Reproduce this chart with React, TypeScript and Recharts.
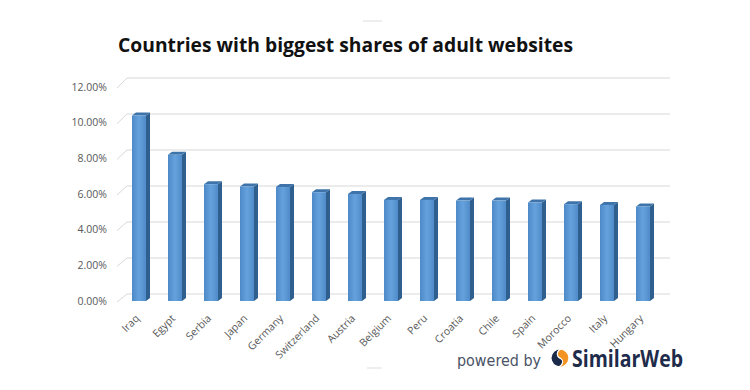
import React from 'react';
import { BarChart, Bar, XAxis, YAxis, CartesianGrid } from 'recharts';

const countries = ['Iraq', 'Egypt', 'Serbia', 'Japan', 'Germany', 'Switzerland', 'Austria', 'Belgium', 'Peru', 'Croatia', 'Chile', 'Spain', 'Morocco', 'Italy', 'Hungary'];
const shares = [10.4, 8.2, 6.55, 6.42, 6.39, 6.1, 6.0, 5.67, 5.67, 5.63, 5.63, 5.52, 5.43, 5.39, 5.3];
const yTicks = [0, 2, 4, 6, 8, 10, 12];
const title = 'Countries with biggest shares of adult websites';

const data = countries.map((c, i) => ({ country: c, share: shares[i] }));

const FONT = '"Open Sans", "DejaVu Sans", sans-serif';

const Bar3D = (props: any) => {
  const { x, y, width, height } = props;
  if (height == null || width == null) return null;
  const d = 4;
  const dy = 3;
  return (
    <g>
      <polygon
        points={`${x + width},${y} ${x + width + d},${y - dy} ${x + width + d},${y + height - dy} ${x + width},${y + height}`}
        fill="#2F5F8E"
      />
      <polygon
        points={`${x},${y} ${x + d},${y - dy} ${x + width + d},${y - dy} ${x + width},${y}`}
        fill="#3E74AA"
      />
      <rect x={x} y={y} width={width} height={height} fill="url(#frontGrad)" />
    </g>
  );
};

const GridLine = (props: any) => {
  const { x1, x2, y1 } = props;
  const off = 8 + ((301 - y1) / 213) * 2;
  return (
    <g key={props.key}>
      <line x1={x1 - 4} y1={y1 + 1} x2={x1 + 6} y2={y1 - off + 1} stroke="#D9D9D9" strokeWidth={1} />
      <line x1={x1 + 6} y1={y1 - off + 1} x2={x2 + 9} y2={y1 - off + 1} stroke="#D9D9D9" strokeWidth={1} />
    </g>
  );
};

const XTick = (props: any) => {
  const { x, y, payload } = props;
  const ax = x + 1;
  const ay = y + 10;
  return (
    <text
      x={ax}
      y={ay}
      transform={`rotate(-45, ${ax}, ${ay})`}
      textAnchor="end"
      fontSize={10.5}
      fontFamily={FONT}
      fill="#595959"
    >
      {payload.value}
    </text>
  );
};

export default function App() {
  return (
    <div style={{ position: 'absolute', left: 0, top: 0, width: 750, height: 390, background: '#fff' }}>
      <BarChart
        width={750}
        height={390}
        data={data}
        margin={{ top: 87, right: 89, bottom: 29, left: 61 }}
        barSize={14}
      >
        <defs>
          <linearGradient id="frontGrad" x1="0" y1="0" x2="1" y2="0">
            <stop offset="0%" stopColor="#4D89C7" />
            <stop offset="50%" stopColor="#65A2DD" />
            <stop offset="100%" stopColor="#4F8BC9" />
          </linearGradient>
        </defs>
        <text x={118} y={52} fontFamily={FONT} fontWeight={700} fontSize={19} fill="#111" textLength={455} lengthAdjust="spacingAndGlyphs">
          {title}
        </text>
        <CartesianGrid vertical={false} horizontal={GridLine as any} />
        <XAxis
          dataKey="country"
          axisLine={false}
          tickLine={false}
          interval={0}
          height={60}
          tick={XTick as any}
        />
        <YAxis
          domain={[0, 12]}
          ticks={yTicks}
          axisLine={false}
          tickLine={false}
          width={60}
          tickMargin={8}
          tickFormatter={(v: number) => `${v.toFixed(2)}%`}
          tick={{ fontSize: 10.5, fontFamily: FONT, fill: '#595959' }}
        />
        <Bar dataKey="share" isAnimationActive={false} shape={Bar3D as any} />
        <line x1={363} y1={21} x2={382} y2={21} stroke="#EEEEEE" strokeWidth={2} />
        <line x1={367} y1={368} x2={382} y2={368} stroke="#EEEEEE" strokeWidth={2} />
        <text x={457} y={366} fontFamily='"DejaVu Sans", sans-serif' fontSize={16.5} fill="#4A5466" textLength={84} lengthAdjust="spacingAndGlyphs">
          powered by
        </text>
        <g transform="rotate(25, 560, 358)">
          <path d="M560,349 A9,9 0 0 0 560,367 A4.5,4.5 0 0 0 560,358 A4.5,4.5 0 0 1 560,349 Z" fill="#1C2A4A" stroke="#fff" strokeWidth={1.2} />
          <path d="M560,349 A9,9 0 0 1 560,367 A4.5,4.5 0 0 0 560,358 A4.5,4.5 0 0 1 560,349 Z" fill="#F39321" stroke="#fff" strokeWidth={1.2} />
        </g>
        <text x={572} y={367} fontFamily={FONT} fontWeight={700} fontSize={23} fill="#1E2B4A" textLength={111} lengthAdjust="spacingAndGlyphs">
          SimilarWeb
        </text>
      </BarChart>
    </div>
  );
}
